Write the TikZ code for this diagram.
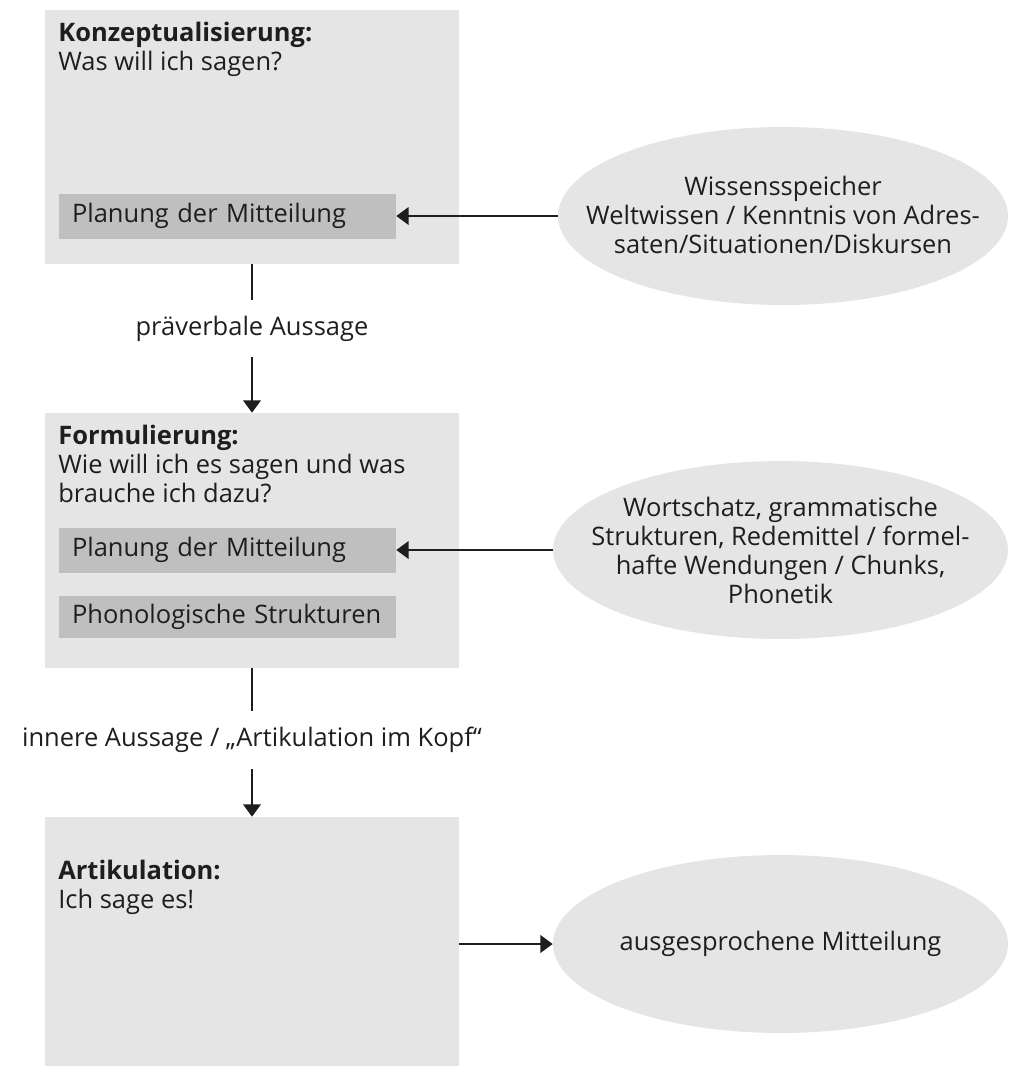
\documentclass[tikz,border=0pt]{standalone}
\usepackage{fontspec}
\setmainfont{Open Sans}
\usepackage{tikz}
\usetikzlibrary{
    arrows.meta,
    positioning,
    shapes.geometric
}
\definecolor{BoxGray}{RGB}{229,229,229}
\definecolor{BarGray}{RGB}{191,191,192}
\definecolor{InkGray}{RGB}{30,30,30}
\tikzset{
  stage/.style    = {fill=BoxGray, minimum width=8.28cm, inner sep=0pt},
  bar/.style      = {fill=BarGray, minimum width=6.74cm, text width=6.22cm,
                     inner xsep=0.26cm, inner ysep=0pt, align=left},
  head/.style     = {anchor=north west, inner sep=0pt, align=left},
  store/.style    = {ellipse, fill=BoxGray, minimum height=3.56cm, inner sep=0pt},
  storetext/.style= {align=center, inner sep=0pt},
  flowlabel/.style= {inner sep=0pt, minimum height=1.14cm},
  arr/.style      = {-{Triangle[length=7pt, width=10pt]}, line width=1.1pt, InkGray},
  link/.style     = {line width=1.1pt, InkGray}
}

\begin{document}
\begin{tikzpicture}[x=0.02cm, y=-0.02cm,
  every node/.style={font=\fontsize{14.5}{16.5}\selectfont, text=InkGray}]
\useasboundingbox (0,0) rectangle (1009,1066);

% stages
\node[stage, minimum height=5.09cm] (konz) at (252,136.75) {};
\node[stage, minimum height=5.10cm] (form) at (252,540.5) {};
\node[stage, minimum height=4.98cm] (artik) at (252,941.5) {};

\node[head] (konzhead) at (58,22) {\textbf{Konzeptualisierung:}\\Was will ich sagen?};
\node[head] (formhead) at (58,425) {\textbf{Formulierung:}\\Wie will ich es sagen und was\\brauche ich dazu?};
\node[head] (artikhead) at (58,860) {\textbf{Artikulation:}\\Ich sage es!};

\node[bar, minimum height=0.9cm] (plan1) at (227.5,216) {Planung der Mitteilung};
\node[bar, minimum height=0.9cm] (plan2) at (227.5,550) {Planung der Mitteilung};
\node[bar, minimum height=0.84cm] (phon) at (227.5,617) {Phonologische Strukturen};

% stores
\node[store, minimum width=9.0cm] (wissen) at (783,216) {};
\node[storetext] (wissentext) at (783,215) {Wissensspeicher\\Weltwissen / Kenntnis von Adres-\\saten/Situationen/Diskursen};
\node[store, minimum width=9.1cm] (wort) at (780.5,550) {};
\node[storetext] (worttext) at (wort) {Wortschatz, grammatische\\Strukturen, Redemittel / formel-\\hafte Wendungen / Chunks,\\Phonetik};
\node[store, minimum width=9.1cm] (aus) at (780.5,944) {};
\node[storetext] (austext) at (aus) {ausgesprochene Mitteilung};

% flow
\node[flowlabel] (pra) at (252,328.5) {präverbale Aussage};
\node[flowlabel, minimum height=1.16cm] (inner) at (252,740) {innere Aussage / „Artikulation im Kopf“};

\draw[link] (konz) -- (pra);
\draw[arr] (pra) -- (form);
\draw[link] (form) -- (inner);
\draw[arr] (inner) -- (artik);

\draw[arr] (wissen.west) -- (plan1.east);
\draw[arr] (wort.west) -- (plan2.east);
\draw[arr] (artik.east |- aus.west) -- (aus.west);
\end{tikzpicture}
\end{document}
